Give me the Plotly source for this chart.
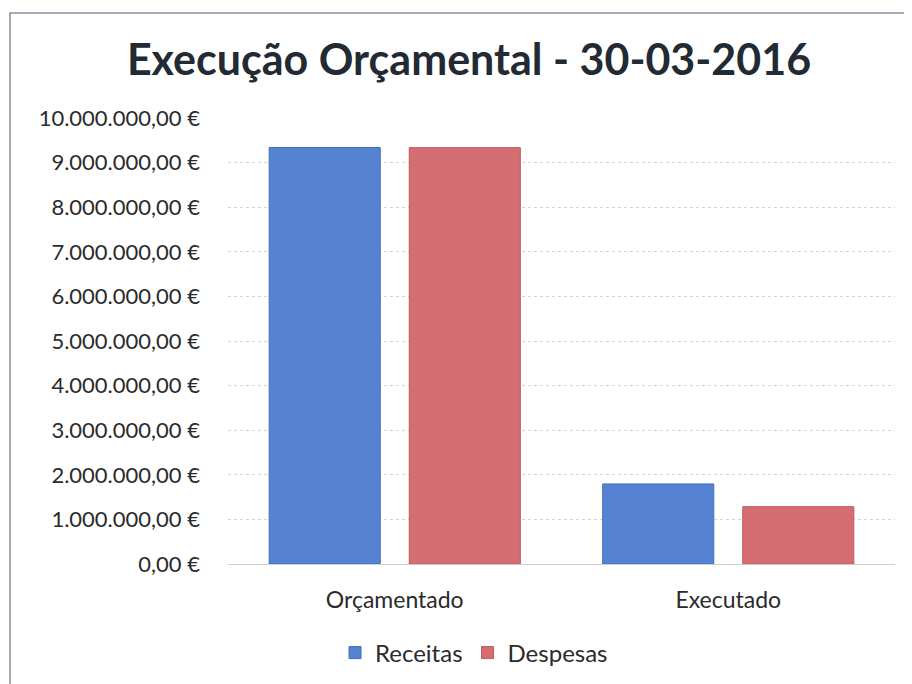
import plotly.graph_objects as go

# Dados
categorias = ["Orçamentado", "Executado"]
receitas = [9340000, 1795000]
despesas = [9335000, 1285000]
y_ticks = [0, 1000000, 2000000, 3000000, 4000000, 5000000,
           6000000, 7000000, 8000000, 9000000, 10000000]
y_tick_labels = ["0,00 €", "1.000.000,00 €", "2.000.000,00 €", "3.000.000,00 €",
                 "4.000.000,00 €", "5.000.000,00 €", "6.000.000,00 €", "7.000.000,00 €",
                 "8.000.000,00 €", "9.000.000,00 €", "10.000.000,00 €"]

FONT = "Lato"
W, H = 912, 684
ML, MR, MT, MB = 220, 25, 110, 128

fig = go.Figure()
fig.add_trace(go.Bar(
    x=categorias, y=receitas, name="Receitas",
    marker=dict(color="#5583D2", line=dict(color="#3F6DBE", width=1)),
))
fig.add_trace(go.Bar(
    x=categorias, y=despesas, name="Despesas",
    marker=dict(color="#D46E72", line=dict(color="#C2585D", width=1)),
))

pw, ph = W - ML - MR, H - MT - MB

fig.update_layout(
    width=W, height=H,
    paper_bgcolor="white", plot_bgcolor="white",
    barmode="group", bargap=0.16, bargroupgap=0.207,
    margin=dict(l=ML, r=MR, t=MT, b=MB),
    font=dict(family=FONT, color="#2b2b2b"),
    title=dict(
        text="<b>Execução Orçamental - 30-03-2016</b>",
        x=461 / W, xanchor="center", xref="container",
        y=1 - 52 / H, yanchor="middle", yref="container",
        font=dict(size=43, family=FONT, color="#222a33"),
    ),
    xaxis=dict(
        showgrid=False, showline=False, ticks="",
        tickfont=dict(size=23, family=FONT, color="#2b2b2b"),
        ticklabelstandoff=20,
    ),
    yaxis=dict(
        range=[0, 10000000],
        tickvals=y_ticks, ticktext=y_tick_labels,
        showgrid=True, gridcolor="#d4d4d4", gridwidth=1, griddash="dot",
        zeroline=True, zerolinecolor="#cfcfcf", zerolinewidth=1,
        tickfont=dict(size=22, family=FONT, color="#2b2b2b"),
        ticklabelstandoff=27,
    ),
    legend=dict(
        orientation="h", x=466 / W, xanchor="center", xref="container",
        y=1 - 645 / H, yanchor="middle", yref="container",
        font=dict(size=24, family=FONT, color="#2b2b2b"),
        itemwidth=30, traceorder="normal",
    ),
    shapes=[dict(
        type="rect", xref="paper", yref="paper",
        x0=(2 - ML) / pw, x1=(960 - ML) / pw,
        y0=(H - MB - 720) / ph, y1=(H - MB - 5) / ph,
        line=dict(color="#8a8f9e", width=1.5), fillcolor="rgba(0,0,0,0)",
        layer="below",
    )],
)

fig.write_html("out.html")
